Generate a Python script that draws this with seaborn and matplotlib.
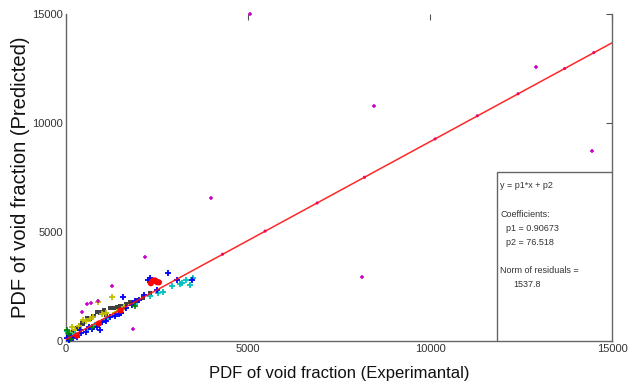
import matplotlib
matplotlib.use("Agg")
import matplotlib.pyplot as plt
import seaborn as sns
import pandas as pd
from matplotlib.patches import Rectangle

# Measured vs. predicted PDF of void fraction, grouped by data set
blue_x = [40, 90, 150, 200, 300, 380, 420, 550, 640, 700, 850, 930, 1000, 1100, 1200, 1350, 1450,
          1500, 1570, 1650, 1800, 1900, 2000, 2150, 2250, 2300, 2500, 2800, 3050, 3460]
blue_y = [150, 60, 250, 120, 200, 500, 380, 420, 640, 560, 650, 500, 850, 900, 1100, 1150, 1250,
          1300, 2020, 1500, 1650, 1850, 1900, 2100, 2800, 2890, 2350, 3120, 2800, 2800]

cyan_x = [20, 60, 150, 250, 400, 600, 800, 1100, 1500, 1900, 2300, 2530, 2670, 2900, 3130, 3190,
          3300, 3400, 3490]
cyan_y = [450, 350, 200, 300, 500, 550, 750, 1000, 1300, 1700, 2050, 2200, 2250, 2500, 2600, 2660,
          2780, 2570, 2890]

# Scattered magenta points away from the fit, and those lying on it
magenta_x = [5050, 8450, 12900, 14450, 3980, 8130, 2170, 1840, 1264, 440, 577, 687, 880]
magenta_y = [15000, 10780, 12570, 8720, 6560, 2940, 3850, 550, 2523, 1330, 1700, 1740, 1830]
magenta_line_x = [4300, 5470, 6900, 8200, 10140, 11300, 12420, 13700, 14500]
magenta_line_y = [3980, 5040, 6330, 7510, 9270, 10330, 11340, 12500, 13230]

yellow_x = [100, 165, 250, 350, 470, 550, 650, 750, 880, 1000, 1100, 1260, 1300, 1400, 1600]
yellow_y = [350, 640, 500, 700, 960, 900, 1000, 1100, 1790, 1250, 1300, 2020, 1190, 1350, 1550]

gray_x = [100, 200, 300, 385, 450, 570, 650, 750, 850, 950, 1050, 1100, 1210, 1300, 1400, 1500,
          1600, 1650, 1750, 1840, 1950, 2120, 2300]
gray_y = [250, 450, 600, 735, 800, 1055, 1000, 1150, 1330, 1300, 1400, 1200, 1510, 1500, 1560, 1600,
          1500, 1700, 1800, 1740, 1850, 1970, 2200]

red_x = [2330, 2380, 2420, 2460, 2500, 2550, 300, 900, 1500]
red_y = [2650, 2750, 2780, 2760, 2700, 2690, 250, 800, 1400]

green_x = [30, 80, 150, 700, 1900]
green_y = [500, 300, 100, 650, 1600]

# Linear fit y = p1*x + p2
p1 = 0.90673
p2 = 76.518
norm_resid = 1537.8
fit_x = [0, 15000]

ticks = [0, 5000, 10000, 15000]

sns.set_theme(style="white")
plt.rcParams["font.family"] = ["Liberation Sans", "DejaVu Sans"]

fig = plt.figure(figsize=(6.3, 3.87), dpi=100)
ax = fig.add_axes([0.1048, 0.1189, 0.8666, 0.8449])

groups = [
    (gray_x, gray_y, "#404040", "s", 10, 0, 3),
    (yellow_x, yellow_y, "#bfbf00", "+", 22, 1.3, 3),
    (cyan_x, cyan_y, "#00bfbf", "+", 22, 1.3, 3),
    (blue_x, blue_y, "#0000ff", "+", 22, 1.3, 3),
    (green_x, green_y, "#008000", "+", 16, 1.2, 3),
    (red_x, red_y, "#ff0000", "o", 20, 0, 3),
    (magenta_x, magenta_y, "#cc00cc", "+", 12, 1.1, 3),
    (magenta_line_x, magenta_line_y, "#cc00cc", "o", 5, 0, 3),
]
for gx, gy, col, mk, sz, lw, z in groups:
    df = pd.DataFrame({"x": gx, "y": gy})
    sns.scatterplot(data=df, x="x", y="y", ax=ax, color=col, marker=mk, s=sz,
                    linewidth=lw, edgecolor=col if lw else "none", clip_on=False, zorder=z)

fit_df = pd.DataFrame({"x": fit_x, "y": [p1 * v + p2 for v in fit_x]})
sns.lineplot(data=fit_df, x="x", y="y", ax=ax, color="#ff1010", linewidth=1.1, alpha=0.9, zorder=4)

ax.set_xlim(0, 15000)
ax.set_ylim(0, 15000)
ax.set_xticks(ticks)
ax.set_yticks(ticks)
ax.set_xticklabels([str(t) for t in ticks])
ax.set_yticklabels([str(t) for t in ticks])
ax.tick_params(direction="in", length=4, width=0.8, colors="#555555",
               labelsize=8, labelcolor="#333333", top=True, right=True, pad=2)
for side in ["left", "bottom", "right"]:
    ax.spines[side].set_color("#666666")
    ax.spines[side].set_linewidth(1.0)
ax.spines["top"].set_visible(False)

ax.set_xlabel("PDF of void fraction (Experimantal)", fontsize=12, color="#111111", labelpad=9)
ax.set_ylabel("PDF of void fraction (Predicted)", fontsize=14.5, color="#111111", labelpad=2)

# Fit-summary box in the lower right corner
box = Rectangle((0.789, 0.0), 0.211, 0.517, transform=ax.transAxes,
                facecolor="white", edgecolor="#666666", linewidth=1.0, zorder=5)
ax.add_patch(box)
lines = [
    (0.795, 0.474, "y = p1*x + p2"),
    (0.795, 0.388, "Coefficients:"),
    (0.805, 0.345, "p1 = 0.90673"),
    (0.805, 0.302, "p2 = 76.518"),
    (0.795, 0.217, "Norm of residuals ="),
    (0.82, 0.174, "1537.8"),
]
for tx, ty, s in lines:
    ax.text(tx, ty, s, transform=ax.transAxes, fontsize=6.5, color="#333333",
            va="center", ha="left", zorder=6)

fig.savefig("out.png", dpi=100)
